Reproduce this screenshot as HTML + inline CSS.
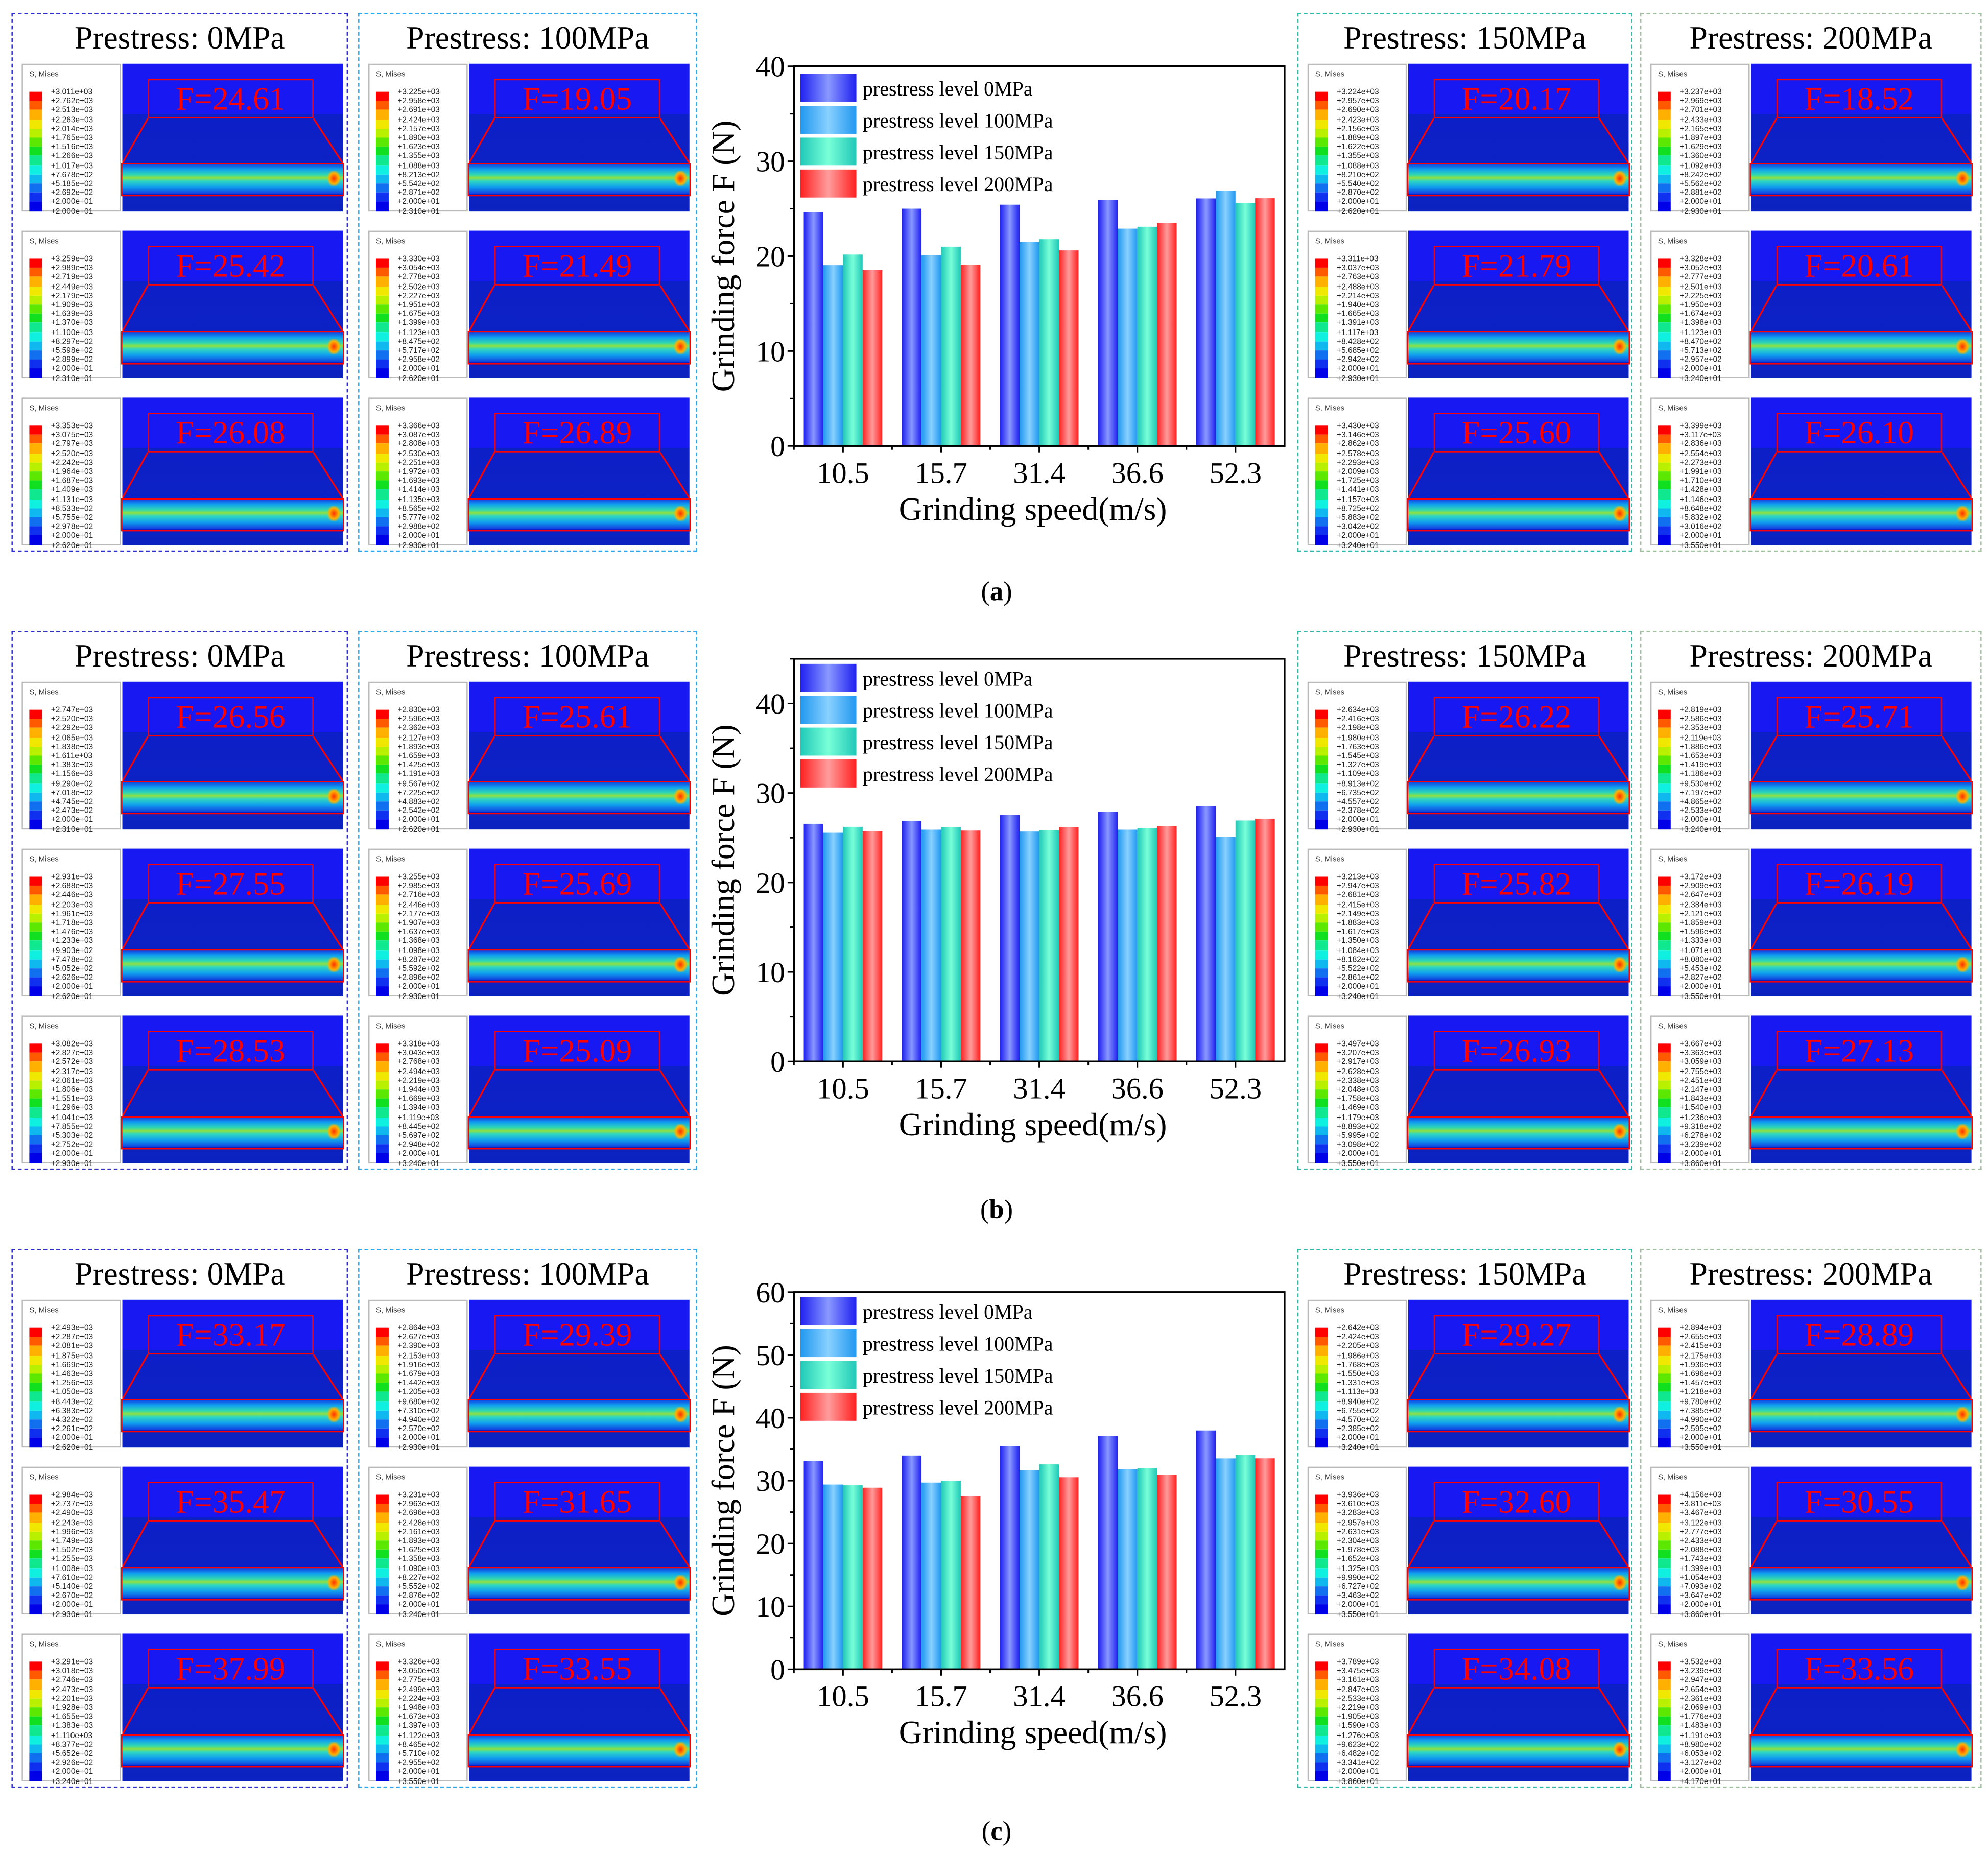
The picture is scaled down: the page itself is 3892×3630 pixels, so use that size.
<!DOCTYPE html>
<html><head><meta charset="utf-8">
<style>
html,body{margin:0;padding:0;background:#fff;}
body{width:3892px;height:3630px;overflow:hidden;position:relative;}
#stage{position:absolute;left:0;top:0;width:1560px;height:1455px;transform:scale(2.4949);transform-origin:0 0;font-family:"Liberation Serif",serif;}
.panel{position:absolute;border:1.3px dashed;box-sizing:border-box;}
.ptitle{position:absolute;left:0;right:0;top:4px;text-align:center;font-size:25.5px;color:#000;white-space:nowrap;}
.sub{position:absolute;height:118px;}
.leg{position:absolute;left:0;top:0;width:78px;height:116px;background:#fff;border:1px solid #bbb;box-sizing:border-box;font-family:"Liberation Sans",sans-serif;}
.leg .t{position:absolute;left:5px;top:5px;font-size:6px;color:#333;}
.leg .v{position:absolute;left:22px;font-size:6.2px;color:#222;line-height:7px;}
.leg .c{position:absolute;left:5px;width:10px;height:7.2px;}
.img{position:absolute;left:79px;top:0;width:173px;height:116px;background:linear-gradient(#1818f2 0,#1818f2 34%,#0d20c8 34%,#0c22c0 100%);}
.strip{position:absolute;left:0;width:173px;height:24px;background:linear-gradient(#1030e0,#10a0ee 20%,#30d8b0 38%,#90e040 48%,#30d8c0 58%,#10a0ee 78%,#1040e0);}
.strip:after{content:"";position:absolute;right:2px;top:6px;width:10px;height:12px;background:radial-gradient(#ff3000,#ffb000 50%,rgba(0,200,255,0) 80%);}
.fbox{position:absolute;border:1.5px solid #f00;color:#f00;font-size:25.5px;text-align:center;line-height:29px;box-sizing:border-box;white-space:nowrap;}
.rbox{position:absolute;border:1.5px solid #f00;box-sizing:border-box;}
.cap{position:absolute;font-size:21px;width:60px;text-align:center;}
</style></head>
<body>
<div id="stage"></div>
<script>
// ---- chart data ----
const categories = ["10.5","15.7","31.4","36.6","52.3"];
const seriesNames = ["prestress level 0MPa","prestress level 100MPa","prestress level 150MPa","prestress level 200MPa"];
const valuesA0 = [24.61,25.0,25.42,25.9,26.08];
const valuesA100 = [19.05,20.1,21.49,22.9,26.89];
const valuesA150 = [20.17,21.0,21.79,23.1,25.60];
const valuesA200 = [18.52,19.1,20.61,23.5,26.10];
const valuesB0 = [26.56,26.9,27.55,27.9,28.53];
const valuesB100 = [25.61,25.9,25.69,25.9,25.09];
const valuesB150 = [26.22,26.2,25.82,26.1,26.93];
const valuesB200 = [25.71,25.8,26.19,26.3,27.13];
const valuesC0 = [33.17,34.0,35.47,37.1,37.99];
const valuesC100 = [29.39,29.7,31.65,31.8,33.55];
const valuesC150 = [29.27,30.0,32.60,32.0,34.08];
const valuesC200 = [28.89,27.5,30.55,30.9,33.56];
const ticksA = [0,10,20,30,40];
const ticksB = [0,10,20,30,40];
const ticksC = [0,10,20,30,40,50,60];
const fValues = [
 [[24.61,25.42,26.08],[19.05,21.49,26.89],[20.17,21.79,25.60],[18.52,20.61,26.10]],
 [[26.56,27.55,28.53],[25.61,25.69,25.09],[26.22,25.82,26.93],[25.71,26.19,27.13]],
 [[33.17,35.47,37.99],[29.39,31.65,33.55],[29.27,32.60,34.08],[28.89,30.55,33.56]]
];
const prestressLabels = ["0MPa","100MPa","150MPa","200MPa"];
const legendMax = [[3011,3259,3353],[3225,3330,3366],[3224,3311,3430],[3237,3328,3399],
                   [2747,2931,3082],[2830,3255,3318],[2634,3213,3497],[2819,3172,3667],
                   [2493,2984,3291],[2864,3231,3326],[2642,3936,3789],[2894,4156,3532]];

const stage = document.getElementById('stage');
const NS = "http://www.w3.org/2000/svg";
const panelX = [[9,264],[281,266],[1018,263],[1287,268]];
const borderCol = ["#3030c8","#30a8e8","#30b8a8","#a0c0a0"];
const rowTop = [10,495,980];
const legColors = ["#ff0000","#ff5a00","#ffb000","#f0e800","#b8f000","#5ce800","#10e020","#10e890","#10f0e0","#10b8f0","#1070f0","#1030f0","#0000e8"];

function fmt(v){ let e=Math.floor(Math.log10(Math.abs(v))); let m=v/Math.pow(10,e); return "+"+m.toFixed(3)+"e+"+String(e).padStart(2,"0"); }

for(let r=0;r<3;r++){
 for(let p=0;p<4;p++){
  const pn=document.createElement('div');
  pn.className='panel';
  
  
  pn.style.left=panelX[p][0]+'px'; pn.style.top=rowTop[r]+'px';
  pn.style.width=panelX[p][1]+'px'; pn.style.height='423px';
  pn.style.borderColor=borderCol[p];
  const t=document.createElement('div'); t.className='ptitle';
  
  
  t.textContent='Prestress: '+prestressLabels[p];
  pn.appendChild(t);
  for(let s=0;s<3;s++){
   const sb=document.createElement('div'); sb.className='sub';
   
   
   sb.style.left='7px'; sb.style.top=(39+s*131)+'px'; sb.style.width='254px';
   const lg=document.createElement('div'); lg.className='leg';
   
   
   let h='<div class="t">S, Mises</div>';
   const mx=legendMax[r*4+p][s], mn=20;
   for(let i=0;i<13;i++){
     h+='<div class="c" style="top:'+(21+i*7.2)+'px;background:'+legColors[i]+'"></div>';
     h+='<div class="v" style="top:'+(18+i*7.2)+'px">'+fmt(mx-(mx-mn)*i/12)+'</div>';
   }
   h+='<div class="v" style="top:'+(18+13*7.2)+'px">'+fmt(mn+ (r+p+s)*3.1)+'</div>';
   lg.innerHTML=h; sb.appendChild(lg);
   const im=document.createElement('div'); im.className='img';
   
   
   const stripTop = (s==0?78:79);
   im.innerHTML='<div class="strip" style="top:'+stripTop+'px"></div>'+
     '<svg width="173" height="116" style="position:absolute;left:0;top:0"><line x1="20" y1="43" x2="0" y2="'+stripTop+'" stroke="#f00" stroke-width="1.3"/><line x1="150" y1="43" x2="173" y2="'+stripTop+'" stroke="#f00" stroke-width="1.3"/></svg>'+
     '<div class="rbox" style="left:-1px;top:'+stripTop+'px;width:175px;height:26px"></div>'+
     '<div class="fbox" style="left:20px;top:12px;width:130px;height:31px">F='+fValues[r][p][s].toFixed(2)+'</div>';
   sb.appendChild(im);
   pn.appendChild(sb);
  }
  stage.appendChild(pn);
 }
}

// ---- charts ----
const chartSpecs=[
 {vals:[valuesA0,valuesA100,valuesA150,valuesA200],ticks:ticksA,max:40,top:52,bottom:350,leg:58,name:'a'},
 {vals:[valuesB0,valuesB100,valuesB150,valuesB200],ticks:ticksB,max:45,top:517,bottom:833,leg:521,name:'b'},
 {vals:[valuesC0,valuesC100,valuesC150,valuesC200],ticks:ticksC,max:60,top:1014,bottom:1310,leg:1018,name:'c'}
];
const grad=[["#2020f0","#8898ff"],["#2098f0","#88d0ff"],["#20c8b8","#78ffd8"],["#ff2020","#ff9c9c"]];
const svg=document.createElementNS(NS,'svg');
svg.setAttribute('width','1560');svg.setAttribute('height','1455');
svg.style.position='absolute';svg.style.left='0';svg.style.top='0';


let defs='<defs>';
grad.forEach((g,i)=>{defs+='<linearGradient id="g'+i+'" x1="0" x2="1" y1="0" y2="0"><stop offset="0" stop-color="'+g[0]+'"/><stop offset="0.5" stop-color="'+g[1]+'"/><stop offset="1" stop-color="'+g[0]+'"/></linearGradient>';});
defs+='</defs>';
svg.innerHTML=defs;
stage.appendChild(svg);
function el(tag,attrs,parent){const e=document.createElementNS(NS,tag);for(const k in attrs)e.setAttribute(k,attrs[k]);(parent||svg).appendChild(e);return e;}
const X0=623,X1=1008;
chartSpecs.forEach(cs=>{
 const g=el('g',{});
 
 
 const band=(X1-X0)/categories.length;
 const xs=i=>X0+band*i;
 const ys=v=>cs.bottom-(cs.bottom-cs.top)*v/cs.max;
 const bw=band*0.2;
 cs.vals.forEach((ser,si)=>{
  ser.forEach((v,ci)=>{
   const b=el('rect',{x:xs(ci)+band*0.1+bw*si,y:ys(v),width:bw,height:cs.bottom-ys(v),fill:'url(#g'+si+')'},g);
   
   
  });
 });
 const fr=el('rect',{x:X0,y:cs.top,width:X1-X0,height:cs.bottom-cs.top,fill:'none',stroke:'#000','stroke-width':1.4},g);
 
 
 for(let v=0;v<=cs.max;v+=5){
  const major=cs.ticks.indexOf(v)>=0;
  el('line',{x1:X0-(major?5:3),x2:X0,y1:ys(v),y2:ys(v),stroke:'#000','stroke-width':1.2},g);
 }
 cs.ticks.forEach(v=>{
  const t=el('text',{x:X0-7,y:ys(v)+8,'text-anchor':'end','font-size':23,'font-family':'Liberation Serif'},g);
  t.textContent=v;
  
  
 });
 categories.forEach((c,i)=>{
  el('line',{x1:xs(i)+band/2,x2:xs(i)+band/2,y1:cs.bottom,y2:cs.bottom+5,stroke:'#000','stroke-width':1.2},g);
  el('line',{x1:xs(i),x2:xs(i),y1:cs.bottom,y2:cs.bottom+3,stroke:'#000','stroke-width':1.2},g);
  const t=el('text',{x:xs(i)+band/2,y:cs.bottom+29,'text-anchor':'middle','font-size':23.5,'font-family':'Liberation Serif'},g);
  t.textContent=c;
  
  
 });
 const xt=el('text',{x:(X0+X1)/2-5,y:cs.bottom+58,'text-anchor':'middle','font-size':25.5,'font-family':'Liberation Serif'},g);
 xt.textContent='Grinding speed(m/s)';
 
 
 const cy=(cs.top+cs.bottom)/2;
 const yt=el('text',{x:0,y:0,transform:'translate(576,'+cy+') rotate(-90)','text-anchor':'middle','font-size':25.5,'font-family':'Liberation Serif'},g);
 yt.textContent='Grinding force F (N)';
 
 
 seriesNames.forEach((n,i)=>{
  const sw=el('rect',{x:628,y:cs.leg+i*25,width:44,height:22,fill:'url(#g'+i+')'},g);
  
  
  const t=el('text',{x:677,y:cs.leg+i*25+17,'font-size':16,'font-family':'Liberation Serif'},g);
  t.textContent=n;
  
  
 });
});
[['(a)',452],['(b)',937],['(c)',1425]].forEach(c=>{
 const d=document.createElement('div');d.className='cap';
 
 
 d.style.left='752px';d.style.top=c[1]+'px';
 d.innerHTML='(<b>'+c[0][1]+'</b>)';
 stage.appendChild(d);
});
</script>
</body></html>
